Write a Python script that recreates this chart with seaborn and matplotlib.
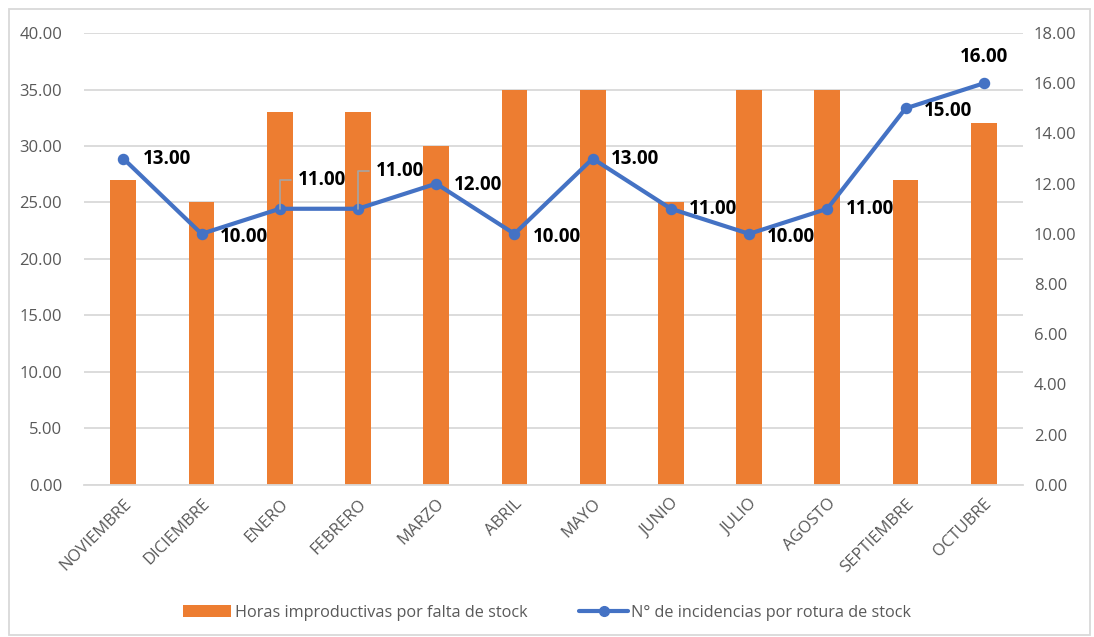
import numpy as np
import pandas as pd
import matplotlib
matplotlib.use("Agg")
import matplotlib.pyplot as plt
import seaborn as sns
from matplotlib.lines import Line2D
from matplotlib.patches import Patch, Rectangle
from matplotlib.ticker import FormatStrFormatter

months = ["NOVIEMBRE", "DICIEMBRE", "ENERO", "FEBRERO", "MARZO", "ABRIL",
          "MAYO", "JUNIO", "JULIO", "AGOSTO", "SEPTIEMBRE", "OCTUBRE"]
horas = [27, 25, 33, 33, 30, 35, 35, 25, 35, 35, 27, 32]
incidencias = [13, 10, 11, 11, 12, 10, 13, 11, 10, 11, 15, 16]

bar_name = "Horas improductivas por falta de stock"
line_name = "N° de incidencias por rotura de stock"

ORANGE = "#ED7D31"
BLUE = "#4472C4"
GRID = "#D9D9D9"
TXT = "#595959"

sns.set_style("white")
plt.rcParams["font.family"] = ["Open Sans", "DejaVu Sans"]

df = pd.DataFrame({"mes": months, "horas": horas, "inc": incidencias})

fig = plt.figure(figsize=(10.94, 6.37), dpi=100)
ax = fig.add_axes([0.077, 0.239, 0.858, 0.709])

sns.barplot(data=df, x="mes", y="horas", color=ORANGE, saturation=1,
            width=0.33, edgecolor="none", ax=ax, zorder=2)
ax.set_ylim(0, 40)
ax.set_yticks(np.arange(0, 41, 5))
ax.yaxis.set_major_formatter(FormatStrFormatter("%.2f"))
ax.grid(axis="y", color=GRID, linewidth=1.3, zorder=0)
ax.set_axisbelow(True)
for s in ["top", "left", "right"]:
    ax.spines[s].set_visible(False)
ax.spines["bottom"].set_color(GRID)
ax.spines["bottom"].set_linewidth(1.3)

ax2 = ax.twinx()
sns.pointplot(data=df, x="mes", y="inc", color=BLUE, markers="o",
              markersize=6, linewidth=3, ax=ax2, zorder=3)
ax2.set_ylim(0, 18)
ax2.set_yticks(np.arange(0, 19, 2))
ax2.yaxis.set_major_formatter(FormatStrFormatter("%.2f"))
for s in ["top", "left", "right", "bottom"]:
    ax2.spines[s].set_visible(False)

ax.set_xlim(-0.5, len(months) - 0.5)
ax.set_xticks(range(len(months)))
ax.set_xticklabels(months, rotation=45, ha="right", rotation_mode="anchor")
ax.tick_params(axis="x", length=0, labelsize=12, labelcolor=TXT, pad=8)
ax.tick_params(axis="y", length=0, labelsize=12, labelcolor=TXT, pad=16)
ax2.tick_params(axis="y", length=0, labelsize=12, labelcolor=TXT, pad=8)
ax.set_xlabel("")
ax.set_ylabel("")
ax2.set_xlabel("")
ax2.set_ylabel("")

# data label offsets in points (dx, dy, ha, va)
offsets = [(14, 0, "left", "center"), (13, -2, "left", "center"),
           (13, 21, "left", "center"), (13, 27, "left", "center"),
           (13, -1, "left", "center"), (13, -2, "left", "center"),
           (13, 0, "left", "center"), (13, 0, "left", "center"),
           (13, -2, "left", "center"), (13, 0, "left", "center"),
           (13, -2, "left", "center"), (0, 19, "center", "center")]
for i, v in enumerate(incidencias):
    dx, dy, ha, va = offsets[i]
    ax2.annotate(f"{v:.2f}", (i, v), xytext=(dx, dy), textcoords="offset points",
                 ha=ha, va=va, fontsize=13.5, fontweight="bold", color="black",
                 zorder=5)
# leader lines for the raised labels
for i, dy in [(2, 21), (3, 27)]:
    v = incidencias[i]
    ax2.annotate("", (i, v), xytext=(8, dy), textcoords="offset points",
                 arrowprops=dict(arrowstyle="-", color="#A5A5A5", lw=1.2,
                                 connectionstyle="angle,angleA=0,angleB=90,rad=0",
                                 shrinkA=0, shrinkB=0))

handles = [Patch(facecolor=ORANGE, edgecolor="none"),
           Line2D([0], [0], color=BLUE, lw=3, marker="o", markersize=7)]
fig.legend(handles, [bar_name, line_name], loc="center", ncol=2,
           bbox_to_anchor=(0.5, 0.038), frameon=False, fontsize=11.7,
           labelcolor=TXT, columnspacing=3.2, handlelength=3, handletextpad=0.2)

fig.patches.append(Rectangle((0.008, 0.003), 0.988, 0.983, transform=fig.transFigure,
                             fill=False, edgecolor=GRID, linewidth=1.3))

fig.savefig("out.png", dpi=100)
